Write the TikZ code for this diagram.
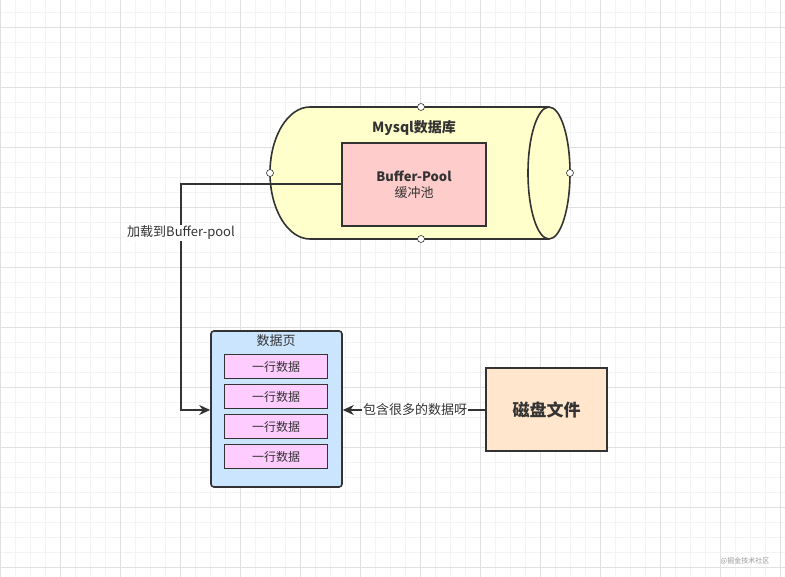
\documentclass[tikz,border=0pt]{standalone}
\usepackage{fontspec}
\setmainfont{Noto Sans CJK SC}
\usetikzlibrary{arrows.meta}
\definecolor{edge}{HTML}{333333}
\definecolor{cylfill}{HTML}{FFFFCC}
\definecolor{poolfill}{HTML}{FFCCCC}
\definecolor{pagefill}{HTML}{CCE5FF}
\definecolor{rowfill}{HTML}{FFCCFF}
\definecolor{diskfill}{HTML}{FFE6CC}
\definecolor{gridminor}{HTML}{F3F3F3}
\definecolor{gridmajor}{HTML}{E0E0E0}
\tikzset{
  box/.style={draw=edge, line width=1.6pt, inner sep=0pt, text=edge},
  rowbox/.style={box, fill=rowfill, minimum width=103pt, minimum height=24pt, font=\fontsize{12}{14}\selectfont},
  conn/.style={draw=edge, line width=1.6pt, -{Stealth[length=11pt,width=10pt]}},
  lbl/.style={fill=white, inner sep=1pt, text=edge, font=\fontsize{13}{15}\selectfont},
  port/.style={circle, draw=edge, fill=white, line width=0.6pt, minimum size=7pt, inner sep=0pt}
}
\begin{document}
\begin{tikzpicture}[x=1pt,y=-1pt]
\useasboundingbox (0,0) rectangle (785,577);
\fill[white] (0,0) rectangle (785,577);
% grid
\foreach \i in {0,...,52} {\draw[gridminor, line width=0.5pt] (\i*15,0) -- (\i*15,577);}
\foreach \j in {0,...,38} {\draw[gridminor, line width=0.5pt] (0,\j*15-3) -- (785,\j*15-3);}
\foreach \i in {0,...,13} {\draw[gridmajor, line width=0.6pt] (\i*60,0) -- (\i*60,577);}
\foreach \j in {0,...,9} {\draw[gridmajor, line width=0.6pt] (0,\j*60+27) -- (785,\j*60+27);}
% cylinder
\fill[cylfill] (310,107) -- (549,107) -- (549,239) -- (310,239)
  arc[start angle=90, end angle=270, x radius=40, y radius=66] -- cycle;
\fill[cylfill] (549,173) ellipse[x radius=21, y radius=66];
\draw[edge, line width=1.6pt] (549,107) -- (310,107)
  arc[start angle=270, end angle=90, x radius=40, y radius=66] -- (549,239);
\draw[edge, line width=1.6pt] (549,173) ellipse[x radius=21, y radius=66];
\node[text=edge, font=\bfseries\fontsize{14}{16}\selectfont] (dbl) at (414,128) {Mysql数据库};
% buffer pool
\node[box, fill=poolfill, minimum width=144pt, minimum height=83pt, align=center,
  font=\fontsize{13}{16}\selectfont] (pool) at (414,184.5) {\textbf{Buffer-Pool}\\缓冲池};
% ports
\node[port] (pt) at (421,107) {};
\node[port] (pb) at (421,239) {};
\node[port] (pl) at (270,173) {};
\node[port] (pr) at (570,173) {};
% data page
\node[box, fill=pagefill, rounded corners=3pt, minimum width=131pt, minimum height=156pt] (page) at (276.5,409) {};
\node[text=edge, font=\fontsize{13}{15}\selectfont] (pagel) at (276,341) {数据页};
\node[rowbox] (r1) at (276,366.5) {一行数据};
\node[rowbox] (r2) at (276,396.5) {一行数据};
\node[rowbox] (r3) at (276,426.5) {一行数据};
\node[rowbox] (r4) at (276,456.5) {一行数据};
% disk
\node[box, fill=diskfill, minimum width=121pt, minimum height=83pt,
  font=\bfseries\fontsize{17}{20}\selectfont] (disk) at (546.5,409.5) {磁盘文件};
% connectors
\coordinate (c1) at (181,184);
\coordinate (c2) at (181,410);
\draw[conn] (pool.west |- 0,184) -- (c1) -- (c2) -- (page.west |- c2);
\node[lbl] (l1) at (181,233) {加载到Buffer-pool};
\draw[conn] (disk.west |- 0,410) -- (page.east |- 0,410);
\node[lbl] (l2) at (415,410) {包含很多的数据呀};
% watermark
\node[text=gray!80, font=\fontsize{7}{8}\selectfont] (wm) at (745,561) {@掘金技术社区};
\end{tikzpicture}
\end{document}
